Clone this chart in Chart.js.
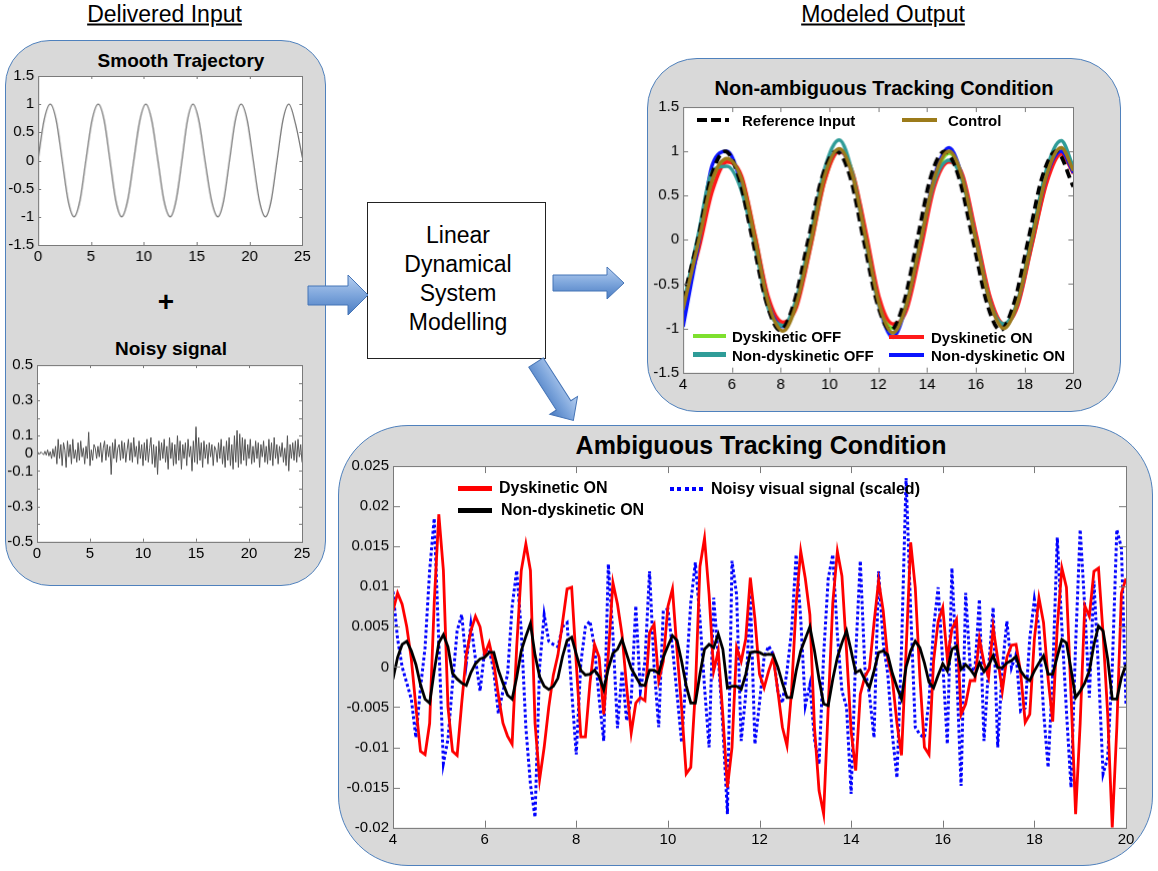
<!DOCTYPE html>
<html>
<head>
<meta charset="utf-8">
<title>Linear Dynamical System Modelling</title>
<script src="https://cdn.jsdelivr.net/npm/chart.js@4.4.1/dist/chart.umd.min.js"></script>
<style>
html,body{margin:0;padding:0;background:#fff;}
body{position:relative;width:1158px;height:871px;overflow:hidden;font-family:"Liberation Sans",Arial,Helvetica,sans-serif;color:#000;}
.box{position:absolute;box-sizing:border-box;background:#d9d9d9;border:1.5px solid #4f81bd;}
.t{position:absolute;line-height:1;white-space:nowrap;transform:translate(-50%,-50%);}
.b{font-weight:bold;}
.cw{position:absolute;}
.lgs{position:absolute;}
.lgt{position:absolute;line-height:1;white-space:nowrap;font-weight:bold;transform:translateY(-50%);}
svg.arrows{position:absolute;left:0;top:0;width:1158px;height:871px;pointer-events:none;}
</style>
</head>
<body>
<!-- panels -->
<div class="box" style="left:5px;top:40px;width:321px;height:546px;border-radius:45px;"></div>
<div class="box" style="left:647px;top:58px;width:474px;height:354px;border-radius:50px;"></div>
<div class="box" style="left:338px;top:425px;width:815px;height:441px;border-radius:70px;"></div>
<div style="position:absolute;left:367px;top:202px;width:179px;height:157px;box-sizing:border-box;background:#fff;border:1.3px solid #222;"></div>

<!-- headings -->
<div class="t" style="left:164.5px;top:14px;font-size:23px;text-decoration:underline;">Delivered Input</div>
<div class="t" style="left:883px;top:14px;font-size:23px;text-decoration:underline;">Modeled Output</div>
<div class="t b" style="left:181px;top:60px;font-size:19px;">Smooth Trajectory</div>
<div class="t b" style="left:166px;top:302px;font-size:28px;">+</div>
<div class="t b" style="left:171px;top:348px;font-size:19px;">Noisy signal</div>
<div class="t b" style="left:884px;top:88px;font-size:20px;">Non-ambiguous Tracking Condition</div>
<div class="t b" style="left:761px;top:445px;font-size:25px;">Ambiguous Tracking Condition</div>
<div class="t" style="left:458px;top:235px;font-size:23px;">Linear</div>
<div class="t" style="left:458px;top:264px;font-size:23px;">Dynamical</div>
<div class="t" style="left:458px;top:293px;font-size:23px;">System</div>
<div class="t" style="left:458px;top:322px;font-size:23px;">Modelling</div>

<div class="cw" id="cSmooth"></div>
<div class="cw" id="cNoisy"></div>
<div class="cw" id="cTrack"></div>
<div class="cw" id="cAmb"></div>
<div id="legends"></div>

<svg class="arrows" viewBox="0 0 1158 871">
  <defs>
    <linearGradient id="ag" x1="0" y1="0" x2="0" y2="1">
      <stop offset="0" stop-color="#b7cff0"/>
      <stop offset="0.5" stop-color="#7ea6dc"/>
      <stop offset="1" stop-color="#4a7cc2"/>
    </linearGradient>
  </defs>
  <polygon points="308,286 348,286 348,275 368,295 348,315 348,305 308,305" fill="url(#ag)" stroke="#4574b6" stroke-width="1"/>
  <polygon points="553,275 607,275 607,267 624,283 607,299 607,291 553,291" fill="url(#ag)" stroke="#4574b6" stroke-width="1"/>
  <g transform="translate(536,362.5) rotate(57.2)">
    <polygon points="0,-8.6 51,-8.6 51,-16.5 69,0 51,16.5 51,8.6 0,8.6" fill="url(#ag)" stroke="#4574b6" stroke-width="1"/>
  </g>
</svg>

<script>
const FONT = '"Liberation Sans", Arial, Helvetica, sans-serif';

/* ===================== DATA ===================== */
// Smooth Trajectory (left, top)
const smoothX = [0,0.56,1.15,1.72,2.28,2.84,3.4,3.96,4.52,5.1,5.69,6.25,6.8,7.35,7.9,8.47,9.05,9.62,10.19,10.75,11.33,11.9,12.5,13.05,13.6,14.12,14.65,15.2,15.78,16.4,17.0,17.55,18.1,18.65,19.2,19.78,20.35,20.92,21.5,22.05,22.6,23.15,23.72,24.35,25];
const smoothY = [0.02,0.71,1,0.71,0,-0.71,-1,-0.71,0,0.71,1,0.71,0,-0.71,-1,-0.71,0,0.71,1,0.71,0,-0.71,-1,-0.71,0,0.71,1,0.71,0,-0.71,-1,-0.71,0,0.71,1,0.71,0,-0.71,-1,-0.71,0,0.71,1,0.65,0.05];
const smoothXTicks = [0,5,10,15,20,25];
const smoothXLabels = ['0','5','10','15','20','25'];
const unitYTicks = [-1.5,-1,-0.5,0,0.5,1,1.5];
const unitYLabels = ['-1.5','-1','-0.5','0','0.5','1','1.5'];

// Noisy signal (left, bottom): samples every 0.125 from 0 to 25
const noisyStep = 0.125;
const noisyY = [
 0,0.005,-0.005,0.008,0,-0.008,0.012,-0.01,
 0.02,-0.015,0.01,-0.03,0.025,-0.02,0.04,-0.06,
 0.08,-0.03,0.05,-0.07,0.06,0.02,-0.08,0.07,
 -0.02,0.05,-0.06,0.08,-0.03,0.02,-0.05,0.06,
 -0.04,0.07,-0.02,0.03,-0.06,0.04,-0.03,0.12,
 -0.07,0.02,-0.04,0.05,0.03,-0.03,0.04,-0.02,
 0.06,-0.05,0.03,0.07,-0.04,0.05,-0.02,0.04,
 -0.12,0.06,-0.03,0.08,-0.05,0.03,0.05,-0.04,
 0.07,-0.03,0.06,-0.05,0.02,0.08,-0.04,0.06,
 -0.05,0.09,-0.02,0.04,-0.06,0.07,-0.03,0.05,
 -0.07,0.06,-0.04,0.08,-0.05,0.03,0.09,-0.06,
 0.05,-0.08,0.04,-0.12,0.07,-0.04,0.06,-0.03,
 0.08,-0.05,0.04,-0.09,0.09,-0.03,0.06,-0.07,
 0.05,-0.06,0.1,-0.04,0.07,-0.09,0.05,-0.03,
 0.06,-0.07,0.08,-0.02,0.04,-0.1,0.07,-0.05,
 0.15,-0.06,0.09,-0.04,0.06,-0.08,0.07,-0.03,
 0.05,-0.06,0.06,-0.02,0.05,-0.07,0.04,0.02,
 -0.05,0.06,-0.03,0.08,-0.06,0.04,-0.08,0.07,
 -0.04,0.09,-0.07,0.05,-0.09,0.1,-0.05,0.13,
 -0.08,0.11,-0.06,0.09,-0.04,0.08,-0.07,0.05,
 -0.03,0.08,-0.06,0.04,-0.05,0.07,-0.03,0.06,
 -0.08,0.05,-0.02,0.07,-0.05,0.04,-0.06,0.08,
 -0.04,0.06,-0.07,0.09,-0.03,0.05,-0.06,0.04,
 -0.02,0.06,-0.05,0.03,-0.07,0.1,-0.1,0.05,
 -0.03,0.06,-0.04,0.07,-0.05,0.08,-0.02,0.05,-0.05
];
const noisyYTicks = [-0.5,-0.4,-0.3,-0.2,-0.1,0,0.1,0.2,0.3,0.4,0.5];
const noisyYLabels = ['-0.5','','-0.3','','-0.1','0','0.1','','0.3','','0.5'];

// Non-ambiguous tracking condition (top right)
const refX = [4.0,4.6,5.15,5.72,6.28,6.85,7.42,7.98,8.55,9.13,9.7,10.28,10.85,11.4,11.95,12.5,13.05,13.6,14.15,14.72,15.3,15.88,16.45,17.0,17.57,18.15,18.72,19.3,20.0];
const refY = [-0.68,0,0.71,1.0,0.71,0,-0.71,-1.02,-0.71,0,0.71,1.0,0.71,0,-0.71,-1.02,-0.71,0,0.71,1.0,0.71,0,-0.71,-1.02,-0.71,0,0.71,1.0,0.6];
const trackX = [4.0,4.65,5.2,5.8,6.4,6.95,7.5,8.1,8.65,9.25,9.8,10.4,10.95,11.5,12.05,12.6,13.15,13.75,14.3,14.9,15.45,16.0,16.6,17.15,17.7,18.3,18.9,19.5,20.0];
const controlY    = [-0.78,0.0,0.68,0.92,0.68,0.0,-0.72,-1.03,-0.72,0.0,0.72,1.03,0.72,0.0,-0.74,-1.05,-0.74,0.0,0.70,1.0,0.70,0.0,-0.72,-1.0,-0.72,0.0,0.73,1.04,0.78];
const dysOffY     = [-0.82,-0.05,0.62,0.90,0.70,0.05,-0.68,-0.95,-0.72,-0.05,0.66,1.0,0.76,0.05,-0.70,-1.0,-0.76,-0.05,0.66,0.98,0.72,0.05,-0.68,-0.95,-0.74,-0.05,0.66,1.0,0.80];
const dysOnY      = [-0.72,-0.10,0.55,0.88,0.72,0.05,-0.65,-0.93,-0.76,-0.05,0.66,1.0,0.76,0.08,-0.66,-0.95,-0.80,-0.10,0.60,0.88,0.74,0.08,-0.66,-0.95,-0.76,-0.06,0.64,0.97,0.75];
const nonDysOffY  = [-0.75,0.10,0.78,0.83,0.55,-0.08,-0.78,-0.97,-0.66,0.08,0.80,1.13,0.74,-0.04,-0.76,-1.05,-0.72,0.02,0.66,0.90,0.66,0.0,-0.72,-0.95,-0.70,0.05,0.80,1.12,0.82];
const nonDysOnY   = [-0.98,-0.02,0.85,1.0,0.62,-0.02,-0.72,-0.98,-0.70,0.02,0.74,1.02,0.72,-0.02,-0.76,-1.10,-0.74,0.0,0.72,1.04,0.70,0.0,-0.72,-0.98,-0.72,0.0,0.72,1.0,0.76];
const trackXTicks = [4,6,8,10,12,14,16,18,20];
const trackXLabels = ['4','6','8','10','12','14','16','18','20'];

// Ambiguous tracking condition (bottom right): samples every 0.1 from 4 to 20
const ambStart = 4, ambStep = 0.1;
const ambRed = [
 .0070,.0092,.0078,.0050,.0010,-.0050,-.0105,-.0109,-.0070,.0080,
 .0190,.0120,-.0050,-.0105,-.0110,-.0045,.0015,.0045,.0063,.0050,
 .0015,.0030,.0005,-.0035,-.0070,-.0086,-.0096,.0025,.0120,.0153,
 .0120,-.0070,-.0140,-.0100,-.0050,-.0010,.0015,.0055,.0097,.0099,
 .0005,-.0087,-.0087,-.0020,.0028,.0012,-.0059,.0015,.0105,.0078,
 .0040,-.0025,-.0082,-.0045,-.0038,-.0042,.0043,.0053,-.0017,.0007,
 .0075,.0097,.0020,-.0051,-.0133,-.0125,-.0030,.0125,.0160,.0090,
 -.0005,.0020,-.0060,-.0150,-.0100,.0024,.0007,.0035,.0111,.0060,
 -.0009,-.0026,-.0005,.0012,-.0030,-.0075,-.0098,-.0030,.0078,.0144,
 .0110,.0065,-.0075,-.0154,-.0183,-.0050,.0080,.0144,.0113,.0020,
 -.0080,-.0129,-.0034,-.0012,-.0002,.0055,.0107,.0070,.0010,-.0015,
 -.0070,-.0110,.0020,.0155,.0099,-.0012,-.0100,-.0109,.0007,.0057,
 .0074,.0010,.0047,.0059,-.0059,-.0046,-.0017,-.0017,.0035,.0005,
 -.0013,.0049,.0010,-.0030,.0012,.0027,.0028,-.0007,-.0069,-.0059,
 .0035,.0086,.0055,-.0015,-.0068,.0050,.0123,.0099,-.0034,-.0183,
 -.0070,.0076,.0063,.0119,.0123,.0041,-.0059,-.0200,-.0075,.0092,
 .0110
];
const ambBlack = [
 -.0015,.0012,.0028,.0032,.0020,.0003,-.0022,-.0040,-.0045,-.0005,
 .0030,.0040,.0025,-.0008,-.0015,-.0020,-.0023,-.0007,.0004,.0010,
 .0012,.0018,.0018,-.0004,-.0020,-.0035,-.0040,-.0013,.0020,.0038,
 .0054,.0015,-.0012,-.0024,-.0028,-.0024,-.0014,.0013,.0033,.0037,
 .0016,-.0004,-.0010,-.0009,-.0004,-.0012,-.0028,-.0002,.0017,.0022,
 .0034,.0016,-.0002,-.0012,-.0022,-.0023,-.0004,-.0004,-.0008,.0012,
 .0026,.0039,.0033,.0007,-.0023,-.0045,-.0045,-.0009,.0022,.0028,
 .0024,.0041,.0022,-.0026,-.0024,-.0024,-.0028,-.0009,.0018,.0019,
 .0018,.0015,.0016,.0015,.0000,-.0020,-.0038,-.0038,-.0005,.0020,
 .0035,.0050,.0020,-.0015,-.0046,-.0048,-.0015,.0012,.0030,.0045,
 .0020,-.0007,-.0004,-.0016,-.0026,-.0005,.0018,.0020,.0015,-.0008,
 -.0025,-.0040,.0000,.0020,.0032,.0024,.0005,-.0019,-.0026,-.0010,
 .0004,-.0005,.0022,.0026,-.0003,.0003,-.0003,-.0011,.0005,-.0006,
 .0002,.0014,-.0001,-.0001,.0005,.0008,.0013,-.0005,-.0013,-.0017,
 -.0005,.0005,.0014,-.0009,-.0009,.0013,.0034,.0030,-.0003,-.0038,
 -.0030,-.0020,-.0005,.0028,.0051,.0045,.0010,-.0040,-.0040,-.0013,
 .0003
];
const ambBlue = [
 .0094,.0035,.0000,-.0020,-.0040,-.0088,-.0026,.0024,.0120,.0185,
 .0030,-.0120,-.0090,-.0020,.0045,.0065,.0005,.0053,.0010,-.0030,
 .0020,.0022,-.0005,-.0058,-.0030,-.0010,.0075,.0120,.0045,-.0075,
 -.0146,-.0187,.0000,.0065,.0032,.0028,.0025,.0050,.0055,-.0030,
 -.0109,.0005,.0050,.0057,.0024,-.0040,-.0092,.0128,.0040,-.0076,
 -.0005,-.0067,-.0040,.0076,-.0030,.0007,.0119,.0000,-.0075,.0070,
 .0072,.0024,-.0034,-.0094,-.0010,.0080,.0130,.0060,-.0025,-.0100,
 .0086,.0012,-.0075,-.0183,.0132,.0090,-.0092,-.0034,.0090,-.0096,
 -.0045,.0012,.0026,.0016,-.0030,-.0045,-.0005,.0045,.0140,.0060,
 -.0048,-.0022,-.0090,-.0121,.0015,.0110,.0140,.0040,-.0030,-.0050,
 -.0158,.0015,.0132,-.0001,-.0034,-.0088,.0119,.0030,-.0009,-.0084,
 -.0138,.0024,.0235,.0070,-.0075,-.0084,-.0088,-.0042,.0049,.0099,
 .0005,-.0096,.0123,-.0001,-.0148,.0092,-.0001,-.0005,.0084,-.0092,
 -.0001,.0074,-.0100,-.0001,.0057,-.0001,.0016,-.0055,-.0051,.0036,
 .0084,.0049,-.0055,-.0125,-.0009,.0161,.0049,-.0055,-.0150,.0028,
 .0171,.0074,-.0038,.0107,-.0005,-.0133,-.0113,-.0001,.0171,.0148,
 -.0048
];
const ambXTicks = [4,6,8,10,12,14,16,18,20];
const ambXLabels = ['4','6','8','10','12','14','16','18','20'];
const ambYTicks = [-0.02,-0.015,-0.01,-0.005,0,0.005,0.01,0.015,0.02,0.025];
const ambYLabels = ['-0.02','-0.015','-0.01','-0.005','0','0.005','0.01','0.015','0.02','0.025'];

// series names
const NAME_REF = 'Reference Input', NAME_CTRL = 'Control';
const NAME_DOFF = 'Dyskinetic OFF', NAME_DON = 'Dyskinetic ON';
const NAME_NOFF = 'Non-dyskinetic OFF', NAME_NON = 'Non-dyskinetic ON';
const NAME_NOISY = 'Noisy visual signal (scaled)';

/* ===================== HELPERS ===================== */
const pts = (xs, ys) => ys.map((y, i) => ({x: xs[i], y}));
const stepX = (start, step, n) => Array.from({length: n}, (_, i) => +(start + i * step).toFixed(4));

const matlabAxes = {
  id: 'matlabAxes',
  beforeDraw(chart) {
    const {ctx, chartArea: a} = chart;
    ctx.save(); ctx.fillStyle = '#fff';
    ctx.fillRect(a.left, a.top, a.right - a.left, a.bottom - a.top);
    ctx.restore();
  },
  afterDraw(chart, args, opts) {
    const {ctx, chartArea: a, scales} = chart;
    const L = opts.tickLen || 5;
    ctx.save();
    ctx.strokeStyle = opts.color || '#7a7a7a';
    ctx.lineWidth = 1;
    ctx.beginPath();
    scales.x.ticks.forEach(t => {
      const p = Math.round(scales.x.getPixelForValue(t.value)) + 0.5;
      ctx.moveTo(p, a.bottom); ctx.lineTo(p, a.bottom - L);
      ctx.moveTo(p, a.top); ctx.lineTo(p, a.top + L);
    });
    scales.y.ticks.forEach(t => {
      const p = Math.round(scales.y.getPixelForValue(t.value)) + 0.5;
      ctx.moveTo(a.left, p); ctx.lineTo(a.left + L, p);
      ctx.moveTo(a.right, p); ctx.lineTo(a.right - L, p);
    });
    ctx.stroke();
    ctx.strokeRect(Math.round(a.left) + 0.5, Math.round(a.top) + 0.5,
                   Math.round(a.right - a.left), Math.round(a.bottom - a.top));
    ctx.restore();
  }
};

function axis(cfg, isX, size) {
  return {
    type: 'linear', min: cfg.min, max: cfg.max,
    grid: {display: false, drawTicks: false}, border: {display: false},
    afterBuildTicks: s => { s.ticks = cfg.ticks.map(v => ({value: v})); },
    afterFit: s => { if (isX) s.height = size; else s.width = size; },
    ticks: {autoSkip: false, maxRotation: 0, minRotation: 0, padding: isX ? 3 : 4,
            color: '#000', font: {family: FONT, size: 15},
            callback: (v, i) => (cfg.labels[i] !== undefined ? cfg.labels[i] : '')}
  };
}

function makeChart(id, rect, W, H, xCfg, yCfg, datasets, tickLen) {
  const padT = 12, padR = 14;
  const el = document.getElementById(id);
  el.style.left = (rect[0] - W) + 'px';
  el.style.top = (rect[1] - padT) + 'px';
  el.style.width = (rect[2] - rect[0] + W + padR) + 'px';
  el.style.height = (rect[3] - rect[1] + padT + H) + 'px';
  const cv = document.createElement('canvas');
  el.appendChild(cv);
  return new Chart(cv, {
    type: 'line',
    data: {datasets},
    options: {
      responsive: true, maintainAspectRatio: false, animation: false,
      layout: {padding: {top: padT, right: padR, left: 0, bottom: 0}},
      plugins: {legend: {display: false}, tooltip: {enabled: false}, matlabAxes: {tickLen}},
      elements: {point: {radius: 0}},
      scales: {x: axis(xCfg, true, H), y: axis(yCfg, false, W)}
    },
    plugins: [matlabAxes]
  });
}

/* ===================== CHARTS ===================== */
makeChart('cSmooth', [38.3, 75, 301.7, 245], 38, 28,
  {min: 0, max: 25, ticks: smoothXTicks, labels: smoothXLabels},
  {min: -1.5, max: 1.5, ticks: unitYTicks, labels: unitYLabels},
  [{label: 'Smooth Trajectory', data: pts(smoothX, smoothY), borderColor: '#7a7a7a', borderWidth: 1.3,
    cubicInterpolationMode: 'monotone', pointRadius: 0}], 3);

makeChart('cNoisy', [36.7, 364, 301.7, 540.7], 36, 28,
  {min: 0, max: 25, ticks: smoothXTicks, labels: smoothXLabels},
  {min: -0.5, max: 0.5, ticks: noisyYTicks, labels: noisyYLabels},
  [{label: 'Noisy signal', data: pts(stepX(0, noisyStep, noisyY.length), noisyY), borderColor: '#555', borderWidth: 1,
    tension: 0, pointRadius: 0}], 3);

const C_REF = '#000000', C_CTRL = '#9c7b1a', C_DOFF = '#7ee02e', C_DON = '#ff1a1a', C_NOFF = '#2f9c98', C_NON = '#0a14ff';
makeChart('cTrack', [683.3, 106, 1072.7, 371.7], 45, 28,
  {min: 4, max: 20, ticks: trackXTicks, labels: trackXLabels},
  {min: -1.5, max: 1.5, ticks: unitYTicks, labels: unitYLabels},
  [
    {label: NAME_CTRL, data: pts(trackX, controlY), borderColor: C_CTRL, borderWidth: 3.5, cubicInterpolationMode: 'monotone', order: 0},
    {label: NAME_REF, data: pts(refX, refY), borderColor: C_REF, borderWidth: 3.8, borderDash: [9, 5], cubicInterpolationMode: 'monotone', order: 1},
    {label: NAME_NOFF, data: pts(trackX, nonDysOffY), borderColor: C_NOFF, borderWidth: 3.5, cubicInterpolationMode: 'monotone', order: 2},
    {label: NAME_NON, data: pts(trackX, nonDysOnY), borderColor: C_NON, borderWidth: 3.5, cubicInterpolationMode: 'monotone', order: 3},
    {label: NAME_DON, data: pts(trackX, dysOnY), borderColor: C_DON, borderWidth: 3.5, cubicInterpolationMode: 'monotone', order: 4},
    {label: NAME_DOFF, data: pts(trackX, dysOffY), borderColor: C_DOFF, borderWidth: 3.5, cubicInterpolationMode: 'monotone', order: 5}
  ], 5);

const ambX = stepX(ambStart, ambStep, ambRed.length);
makeChart('cAmb', [393, 465, 1126, 826.7], 56, 28,
  {min: 4, max: 20, ticks: ambXTicks, labels: ambXLabels},
  {min: -0.02, max: 0.025, ticks: ambYTicks, labels: ambYLabels},
  [
    {label: NAME_NON, data: pts(ambX, ambBlack), borderColor: '#000', borderWidth: 2.8, tension: 0, order: 0},
    {label: NAME_DON, data: pts(ambX, ambRed), borderColor: '#ff0000', borderWidth: 2.8, tension: 0, order: 1},
    {label: NAME_NOISY, data: pts(ambX, ambBlue), borderColor: '#0000ff', borderWidth: 3, borderDash: [3, 2.5], tension: 0, order: 2}
  ], 7);

/* ===================== LEGENDS (HTML) ===================== */
const legendItems = [
  {name: NAME_REF,  color: C_REF,  kind: 'dash', x: 697, y: 120, w: 32, h: 4, tx: 742, fs: 15},
  {name: NAME_CTRL, color: C_CTRL, kind: 'solid', x: 902, y: 120, w: 35, h: 4.5, tx: 948, fs: 15},
  {name: NAME_DOFF, color: C_DOFF, kind: 'solid', x: 693, y: 336, w: 33, h: 4.5, tx: 732, fs: 15},
  {name: NAME_NOFF, color: C_NOFF, kind: 'solid', x: 693, y: 354.5, w: 33, h: 4.5, tx: 732, fs: 15},
  {name: NAME_DON,  color: C_DON,  kind: 'solid', x: 889, y: 337, w: 35, h: 4.5, tx: 931, fs: 15},
  {name: NAME_NON,  color: C_NON,  kind: 'solid', x: 889, y: 355, w: 35, h: 4.5, tx: 931, fs: 15},
  {name: NAME_DON,  color: '#ff0000', kind: 'solid', x: 458, y: 488, w: 34, h: 5, tx: 499, fs: 16},
  {name: NAME_NON,  color: '#000', kind: 'solid', x: 458, y: 510, w: 34, h: 5, tx: 501, fs: 16},
  {name: NAME_NOISY, color: '#0000ff', kind: 'dot', x: 670, y: 489, w: 35, h: 4, tx: 711, fs: 16}
];
const lg = document.getElementById('legends');
legendItems.forEach(it => {
  const s = document.createElement('div');
  s.className = 'lgs';
  s.style.left = it.x + 'px';
  s.style.top = (it.y - it.h / 2) + 'px';
  s.style.width = it.w + 'px';
  s.style.height = it.h + 'px';
  if (it.kind === 'solid') s.style.background = it.color;
  else if (it.kind === 'dash') s.style.background = `repeating-linear-gradient(90deg, ${it.color} 0 10px, transparent 10px 14px)`;
  else s.style.background = `repeating-linear-gradient(90deg, ${it.color} 0 4px, transparent 4px 7.3px)`;
  lg.appendChild(s);
  const t = document.createElement('div');
  t.className = 'lgt';
  t.style.left = it.tx + 'px';
  t.style.top = it.y + 'px';
  t.style.fontSize = it.fs + 'px';
  t.textContent = it.name;
  lg.appendChild(t);
});
</script>
</body>
</html>
